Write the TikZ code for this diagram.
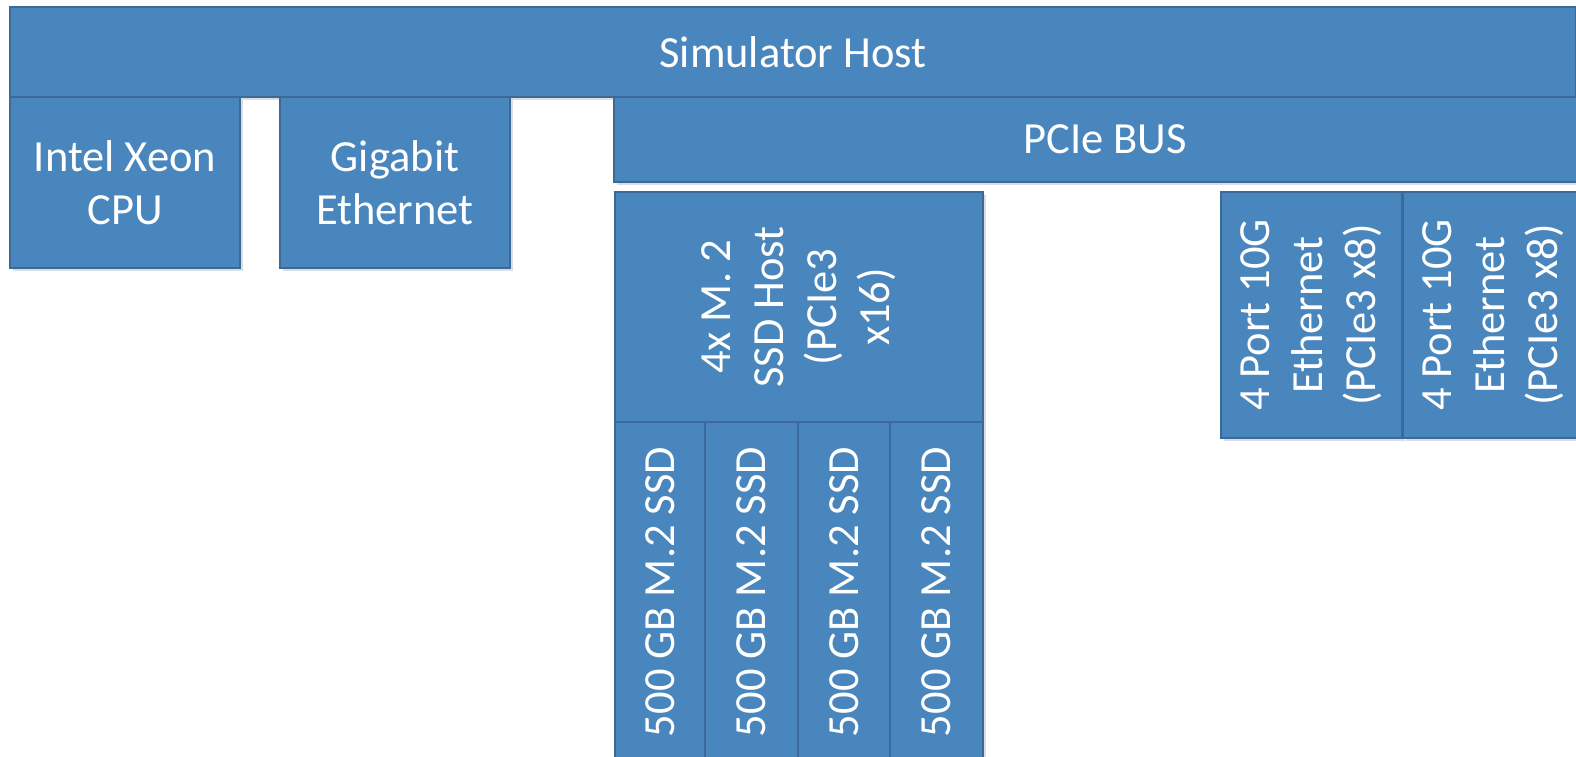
\documentclass[tikz,border=0pt]{standalone}
\usepackage{fontspec}
\setmainfont{Carlito}
\usetikzlibrary{shadows}
\definecolor{boxfill}{HTML}{4A86BE}
\definecolor{boxline}{HTML}{3B6A9A}
\tikzset{
  blockbox/.style={draw=boxline, line width=1.5pt, fill=boxfill, text=white,
    align=center, inner sep=0pt, anchor=center,
    font=\fontsize{44.5}{53}\selectfont,
    drop shadow={shadow xshift=3pt, shadow yshift=-3pt, opacity=0.22, fill=black!60}},
  upright/.style={blockbox},
  sideways/.style={blockbox, rotate=90}
}
\begin{document}
\begin{tikzpicture}[x=1pt, y=-1pt]
  \useasboundingbox (0,0) rectangle (1576,757);
  \clip (0,0) rectangle (1576,757);
  \fill[white] (0,0) rectangle (1576,757);

  % host, CPU, NIC and bus
  \node[upright, minimum width=1566pt, minimum height=90pt] (host) at (793,52) {Simulator Host};
  \node[upright, minimum width=230pt, minimum height=171pt] (cpu) at (125,182.5) {Intel Xeon\\CPU};
  \node[upright, minimum width=230pt, minimum height=171pt] (gbe) at (395,182.5) {Gigabit\\Ethernet};
  \node[upright, minimum width=982pt, minimum height=85pt] (pcie) at (1105,139.5) {PCIe BUS};

  % SSD host adapter and its drives
  \node[sideways, minimum width=230pt, minimum height=368pt] (ssdhost) at (799,307) {4x M. 2\\SSD Host\\(PCIe3\\x16)};
  \node[sideways, minimum width=340pt, minimum height=90pt] (ssda) at (660,592) {500 GB M.2 SSD};
  \node[sideways, minimum width=340pt, minimum height=93pt] (ssdb) at (751.5,592) {500 GB M.2 SSD};
  \node[sideways, minimum width=340pt, minimum height=92pt] (ssdc) at (844,592) {500 GB M.2 SSD};
  \node[sideways, minimum width=340pt, minimum height=93pt] (ssdd) at (936.5,592) {500 GB M.2 SSD};

  % 10G network cards
  \node[sideways, minimum width=246pt, minimum height=181pt] (etha) at (1311.5,315) {4 Port 10G\\Ethernet\\(PCIe3 x8)};
  \node[sideways, minimum width=246pt, minimum height=181pt] (ethb) at (1493.5,315) {4 Port 10G\\Ethernet\\(PCIe3 x8)};
\end{tikzpicture}
\end{document}
